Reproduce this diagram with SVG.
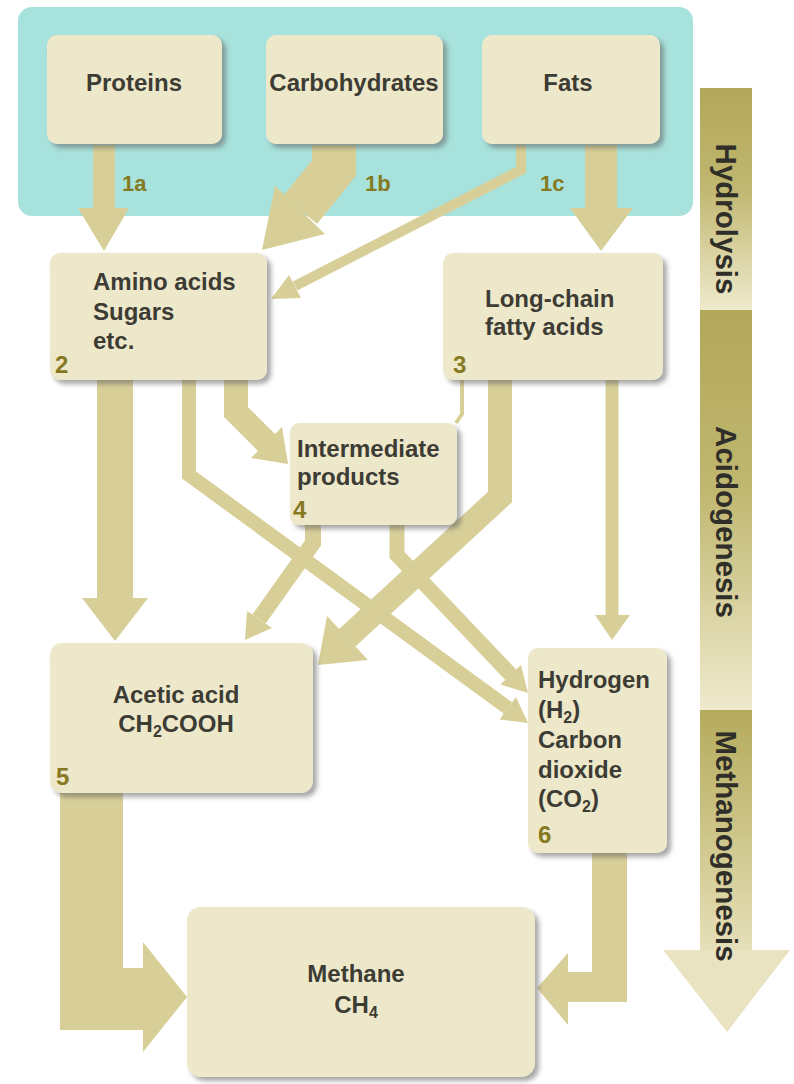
<svg xmlns="http://www.w3.org/2000/svg" width="794" height="1084" viewBox="0 0 794 1084">
<defs>
<filter id="sh" x="-10%" y="-10%" width="125%" height="125%">
<feDropShadow dx="4" dy="4" stdDeviation="2.5" flood-color="#5e5e5e" flood-opacity="0.55"/>
</filter>
<linearGradient id="gBar" x1="0" y1="0" x2="0" y2="1">
<stop offset="0" stop-color="#b2a85a"/>
<stop offset="0.45" stop-color="#c0b770"/>
<stop offset="1" stop-color="#efeacd"/>
</linearGradient>
<linearGradient id="gMeth" x1="0" y1="0" x2="0" y2="1">
<stop offset="0" stop-color="#b5ab5d"/>
<stop offset="0.5" stop-color="#cdc588"/>
<stop offset="1" stop-color="#e6e0ba"/>
</linearGradient>
<style>
.box{fill:#eee8cb;filter:url(#sh)}
.t{font-family:"Liberation Sans",Arial,sans-serif;font-size:24px;font-weight:700;fill:#3d3c34}
.n{font-family:"Liberation Sans",Arial,sans-serif;font-size:24px;font-weight:700;fill:#857a22}
.lab{font-family:"Liberation Sans",Arial,sans-serif;font-size:22px;font-weight:700;fill:#857a22}
.bar{font-family:"Liberation Sans",Arial,sans-serif;font-size:29.5px;font-weight:700;fill:#2f2e28}
.ln{fill:none;stroke:#d8cf98;stroke-linejoin:miter}
.ah{fill:#d8cf98}
.sub{font-size:16px}
</style>
</defs>
<rect width="794" height="1084" fill="#ffffff"/>
<rect id="panel" x="18" y="7" width="675" height="209" rx="14" fill="#a8e2dc"/>

<g id="phase-bar">
<rect x="700" y="88" width="52" height="222" fill="url(#gBar)"/>
<rect x="700" y="310" width="52" height="400" fill="url(#gBar)"/>
<rect x="700" y="710" width="52" height="241" fill="url(#gMeth)"/>
<polygon points="663,950 790,950 727,1032" fill="#e9e3c1"/>
<text class="bar" transform="translate(726,219) rotate(90)" text-anchor="middle" dy="0.35em">Hydrolysis</text>
<text class="bar" transform="translate(726,522) rotate(90)" text-anchor="middle" dy="0.35em">Acidogenesis</text>
<text class="bar" transform="translate(726,846) rotate(90)" text-anchor="middle" dy="0.35em">Methanogenesis</text>
</g>

<g id="connectors">
<!-- 1a -->
<polyline class="ln" points="104,145 104,210" stroke-width="22"/>
<polygon class="ah" points="78,208 129,208 104,251"/>
<!-- 1b -->
<polyline class="ln" points="334,145 334,168 300,210" stroke-width="44"/>
<polygon class="ah" points="325,234 275,186 262,250"/>
<!-- 1c thin -->
<polyline class="ln" points="521,145 521,170 295,286" stroke-width="10"/>
<polygon class="ah" points="301,298 289,275 271,299"/>
<!-- Fats to long-chain -->
<polyline class="ln" points="601,145 601,210" stroke-width="32"/>
<polygon class="ah" points="570,208 633,208 601,251"/>
<!-- Amino to acetic -->
<polyline class="ln" points="115,380 115,600" stroke-width="36"/>
<polygon class="ah" points="82,598 148,598 115,641"/>
<!-- Amino to intermediate -->
<polyline class="ln" points="236,378 236,412 267,443" stroke-width="24"/>
<polygon class="ah" points="251,458 282,427 288,464"/>
<!-- Amino to hydrogen -->
<polyline class="ln" points="189,378 189,475 508,708" stroke-width="14"/>
<polygon class="ah" points="499.5,719.5 516,697 528,723"/>
<!-- Intermediate left to acetic -->
<polyline class="ln" points="313,523 313,543 259,619" stroke-width="16"/>
<polygon class="ah" points="272,628 247,611 245,640"/>
<!-- Intermediate right to hydrogen -->
<polyline class="ln" points="397,523 397,555 511,675" stroke-width="15"/>
<polygon class="ah" points="500.5,684.5 521,665 528,693"/>
<!-- Long-chain to intermediate thin -->
<polyline class="ln" points="462,378 462,414 456,423" stroke-width="4"/>
<!-- Long-chain to acetic thick -->
<polyline class="ln" points="500,378 500,497 347,638" stroke-width="24"/>
<polygon class="ah" points="368,660 327,616 318,665"/>
<!-- Long-chain to hydrogen -->
<polyline class="ln" points="612,378 612,617" stroke-width="13"/>
<polygon class="ah" points="595,615 630,615 612,640"/>
<!-- Acetic to methane -->
<polygon class="ah" points="60,791 123,791 123,968 143,968 143,942 187,997 143,1052 143,1030 60,1030"/>
<!-- Hydrogen to methane -->
<polygon class="ah" points="592,851 627,851 627,1002 568,1002 568,1025 537,988 568,953 568,972 592,972"/>
</g>

<g id="proteins">
<rect class="box" x="47" y="35" width="175" height="109" rx="10"/>
<text class="t" x="134" y="91" text-anchor="middle">Proteins</text>
</g>
<g id="carbohydrates">
<rect class="box" x="266" y="35" width="177" height="109" rx="10"/>
<text class="t" x="354" y="91" text-anchor="middle">Carbohydrates</text>
</g>
<g id="fats">
<rect class="box" x="482" y="35" width="178" height="109" rx="10"/>
<text class="t" x="568" y="91" text-anchor="middle">Fats</text>
</g>
<g id="labels-1">
<text class="lab" x="122" y="191">1a</text>
<text class="lab" x="365" y="191">1b</text>
<text class="lab" x="540" y="191">1c</text>
</g>

<g id="amino">
<rect class="box" x="50" y="253" width="217" height="127" rx="10"/>
<text class="t" x="93" y="290">Amino acids</text>
<text class="t" x="93" y="320">Sugars</text>
<text class="t" x="93" y="349">etc.</text>
<text class="n" x="55" y="373">2</text>
</g>
<g id="longchain">
<rect class="box" x="443" y="253" width="220" height="127" rx="10"/>
<text class="t" x="485" y="307">Long-chain</text>
<text class="t" x="485" y="335">fatty acids</text>
<text class="n" x="453" y="373">3</text>
</g>
<g id="intermediate">
<rect class="box" x="290" y="423" width="167" height="102" rx="9"/>
<text class="t" x="297" y="457">Intermediate</text>
<text class="t" x="297" y="485">products</text>
<text class="n" x="293" y="518">4</text>
</g>
<g id="acetic">
<rect class="box" x="50" y="643" width="263" height="150" rx="12"/>
<text class="t" x="176" y="703" text-anchor="middle">Acetic acid</text>
<text class="t" x="176" y="732" text-anchor="middle">CH<tspan class="sub" dy="5">2</tspan><tspan dy="-5">COOH</tspan></text>
<text class="n" x="56" y="785">5</text>
</g>
<g id="hydrogen">
<rect class="box" x="528" y="648" width="139" height="205" rx="10"/>
<text class="t" x="538" y="688">Hydrogen</text>
<text class="t" x="538" y="718">(H<tspan class="sub" dy="5">2</tspan><tspan dy="-5">)</tspan></text>
<text class="t" x="538" y="748">Carbon</text>
<text class="t" x="538" y="778">dioxide</text>
<text class="t" x="538" y="807">(CO<tspan class="sub" dy="5">2</tspan><tspan dy="-5">)</tspan></text>
<text class="n" x="538" y="843">6</text>
</g>
<g id="methane">
<rect class="box" x="187" y="907" width="348" height="170" rx="14"/>
<text class="t" x="356" y="982" text-anchor="middle">Methane</text>
<text class="t" x="356" y="1013" text-anchor="middle">CH<tspan class="sub" dy="5">4</tspan></text>
</g>
</svg>
